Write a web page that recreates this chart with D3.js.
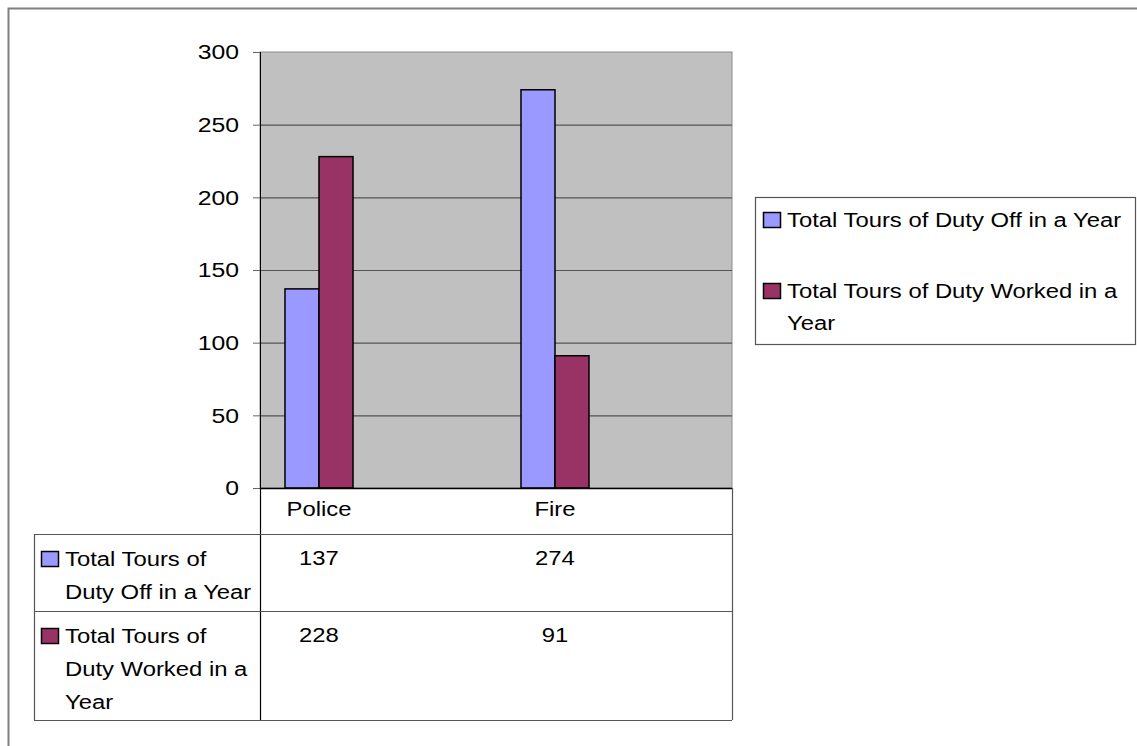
<!DOCTYPE html>
<html>
<head>
<meta charset="utf-8">
<script src="https://cdn.jsdelivr.net/npm/d3@7"></script>
<style>
  body { margin: 0; background: #fff; }
  svg { display: block; font-family: "Liberation Sans", Arial, sans-serif; }
</style>
</head>
<body>
<div class="chart"></div>
<script>
// 데이터
const categories = ["Police", "Fire"];
const slots = ["Police", "gap1", "Fire", "gap2"]; // 빈 항목 포함된 축
const seriesNames = ["Total Tours of Duty Off in a Year", "Total Tours of Duty Worked in a Year"];
const offValues = [137, 274];
const workedValues = [228, 91];
const yTicks = [0, 50, 100, 150, 200, 250, 300];
// 줄바꿈된 텍스트
const tableLabels = [["Total Tours of", "Duty Off in a Year"], ["Total Tours of", "Duty Worked in a", "Year"]];
const legendLabels = [["Total Tours of Duty Off in a Year"], ["Total Tours of Duty Worked in a", "Year"]];

const colors = ["#9999FF", "#993366"];
const W = 1137, H = 746;
const plot = {left: 260, right: 732, top: 52, bottom: 488};
const fontSize = 21;
const SX = 1.135;    // 원본 글자가 가로로 늘어나 있음
const SX_TICK = 1.18;

const svg = d3.select(".chart").append("svg").attr("width", W).attr("height", H);

// 가로로 늘린 텍스트
function label(parent, x, y, txt, anchor = "start") {
  parent.append("g")
      .attr("transform", `translate(${x},${y}) scale(${SX},1)`)
    .append("text")
      .attr("font-size", fontSize)
      .attr("text-anchor", anchor)
      .attr("fill", "#000")
      .text(txt);
}

// 바깥 테두리
svg.append("path")
  .attr("d", `M8.5,${H} V8.5 H${W}`)
  .attr("fill", "none").attr("stroke", "#808080").attr("stroke-width", 2);

const x = d3.scaleBand().domain(slots).range([plot.left, plot.right]);
const xInner = d3.scaleBand().domain([0, 1]).range([0, x.bandwidth()]).paddingOuter(0.735);
const y = d3.scaleLinear().domain([0, 300]).range([plot.bottom, plot.top]);

// 플롯 배경
svg.append("rect")
  .attr("x", plot.left).attr("y", plot.top)
  .attr("width", plot.right - plot.left).attr("height", plot.bottom - plot.top)
  .attr("fill", "#C0C0C0").attr("stroke", "#8a8a8a");

// 그리드
svg.append("g").selectAll("line")
  .data(yTicks.filter(d => d > 0 && d < 300))
  .join("line")
    .attr("x1", plot.left).attr("x2", plot.right)
    .attr("y1", d => y(d) + 0.5).attr("y2", d => y(d) + 0.5)
    .attr("stroke", "#555").attr("stroke-width", 1.2);

// y축
const yAxis = svg.append("g")
  .attr("transform", `translate(${plot.left},0)`)
  .call(d3.axisLeft(y).tickValues(yTicks).tickSize(7).tickPadding(0));
yAxis.select(".domain").attr("stroke", "#000").attr("d", `M0.5,${plot.top}V${plot.bottom}`);
yAxis.selectAll(".tick line").attr("stroke", "#666");
yAxis.selectAll("text")
  .attr("x", -21 / SX_TICK)
  .attr("transform", `scale(${SX_TICK},1)`)
  .attr("font-size", fontSize).attr("font-family", "Liberation Sans, Arial").attr("fill", "#000");

// 막대
const series = [offValues, workedValues];
series.forEach((vals, s) => {
  svg.append("g").selectAll("rect")
    .data(categories.map((c, i) => ({c, v: vals[i]})))
    .join("rect")
      .attr("x", d => x(d.c) + xInner(s))
      .attr("width", xInner.bandwidth())
      .attr("y", d => y(d.v))
      .attr("height", d => y(0) - y(d.v))
      .attr("fill", colors[s])
      .attr("stroke", "#000").attr("stroke-width", 1.5);
});
// x축 선
svg.append("line")
  .attr("x1", plot.left).attr("x2", plot.right)
  .attr("y1", plot.bottom + 0.5).attr("y2", plot.bottom + 0.5)
  .attr("stroke", "#000").attr("stroke-width", 1.5);

/******** 데이터 표 ********/
const table = {left: 34, row0: 534, row1: 611, bottom: 720};
const tg = svg.append("g").attr("stroke", "#555").attr("stroke-width", 1.2);
tg.append("line").attr("x1", plot.right + 0.5).attr("x2", plot.right + 0.5).attr("y1", plot.bottom).attr("y2", table.bottom);
tg.append("line").attr("x1", plot.left + 0.5).attr("x2", plot.left + 0.5).attr("y1", plot.bottom).attr("y2", table.bottom).attr("stroke", "#000");
tg.append("line").attr("x1", table.left + 0.5).attr("x2", table.left + 0.5).attr("y1", table.row0).attr("y2", table.bottom);
[table.row0, table.row1, table.bottom].forEach(yy => {
  tg.append("line").attr("x1", table.left).attr("x2", plot.right).attr("y1", yy + 0.5).attr("y2", yy + 0.5);
});

// 항목 이름
categories.forEach(c => label(svg, x(c) + x.bandwidth() / 2, 516, c, "middle"));

// 표 행
const rowTops = [table.row0, table.row1];
series.forEach((vals, s) => {
  const g = svg.append("g");
  g.append("rect")
    .attr("x", 41.5).attr("y", rowTops[s] + 17.5)
    .attr("width", 17).attr("height", 15)
    .attr("fill", colors[s]).attr("stroke", "#000").attr("stroke-width", 1.5);
  tableLabels[s].forEach((t, i) => label(g, 65, rowTops[s] + 32 + i * 33, t));
  categories.forEach((c, i) => label(g, x(c) + x.bandwidth() / 2, rowTops[s] + 31, vals[i], "middle"));
});

/******** 범례 ********/
const lg = svg.append("g");
lg.append("rect")
  .attr("x", 755.5).attr("y", 197.5).attr("width", 380).attr("height", 147)
  .attr("fill", "#fff").attr("stroke", "#555").attr("stroke-width", 1.2);
const legendY = [227, 298];
seriesNames.forEach((name, s) => {
  lg.append("rect")
    .attr("x", 763.5).attr("y", legendY[s] - 14.5)
    .attr("width", 17).attr("height", 15)
    .attr("fill", colors[s]).attr("stroke", "#000").attr("stroke-width", 1.5);
  legendLabels[s].forEach((t, i) => label(lg, 787, legendY[s] + i * 32, t));
});
</script>
</body>
</html>
